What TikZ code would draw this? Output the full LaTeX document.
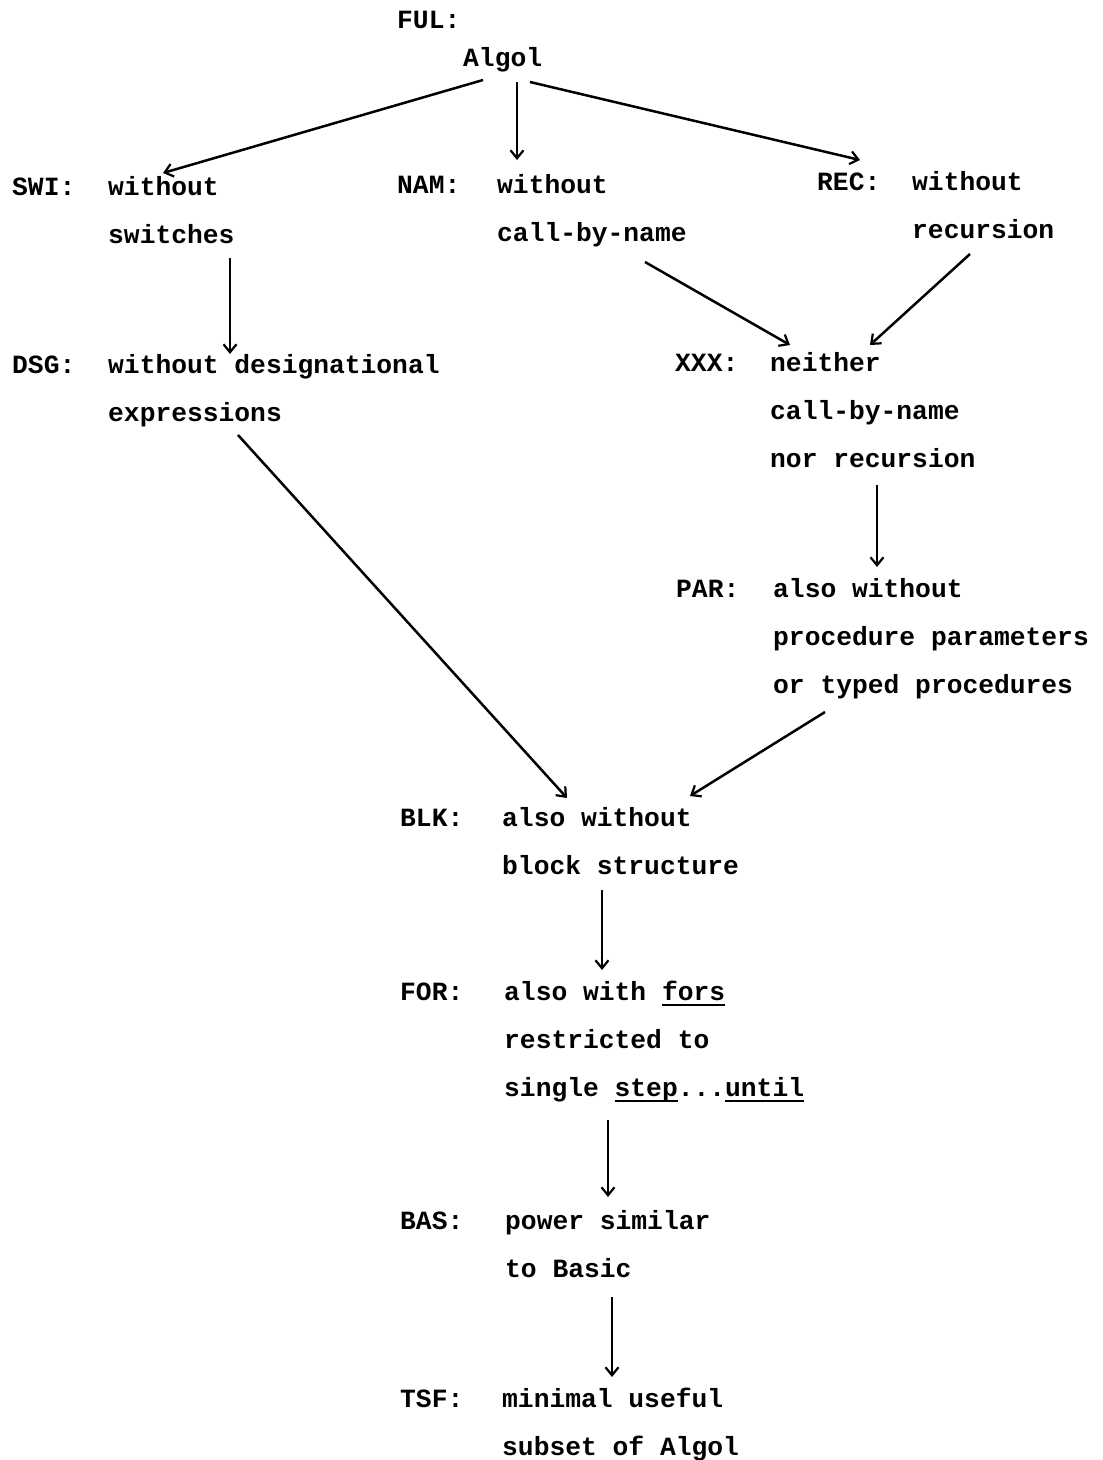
\documentclass[tikz,border=0pt]{standalone}
\usepackage{fontspec}
\setmonofont{Liberation Mono}
\usetikzlibrary{arrows.meta,calc}
% typewriter-style underline of fixed depth and weight
\newcommand\tul[1]{\setbox0\hbox{#1}\rlap{\rule[-6pt]{\wd0}{2pt}}\box0}
\newcommand\tyfont{\fontsize{26.3}{48}\selectfont\ttfamily\bfseries}
% stacked lines whose reference point is the first baseline
\newcommand\stack[1]{\begin{tabular}[t]{@{}l@{}}#1\end{tabular}}
\tikzset{
  tag/.style={anchor=base west, inner sep=0pt, font=\tyfont},
  entry/.style={anchor=base west, inner sep=0pt, font=\tyfont},
  link/.style={line width=2.5pt, -{Straight Barb[length=8pt,width=13pt,line width=2.2pt]}}
}
\begin{document}
\begin{tikzpicture}[x=1pt,y=-1pt]
  \fill[white] (0,0) rectangle (1103,1460);
  \useasboundingbox (0,0) rectangle (1103,1460);

  % language variants
  \node[tag]   (ful)  at (397,28)  {FUL:};
  \node[entry] (alg)  at (463,66)  {Algol};

  \node[tag]   (swi)  at (12,195)  {SWI:};
  \node[entry] (swiT) at (108,195) {\stack{without\\switches}};

  \node[tag]   (nam)  at (397,193) {NAM:};
  \node[entry] (namT) at (497,193) {\stack{without\\call-by-name}};

  \node[tag]   (rec)  at (817,190) {REC:};
  \node[entry] (recT) at (912,190) {\stack{without\\recursion}};

  \node[tag]   (dsg)  at (12,373)  {DSG:};
  \node[entry] (dsgT) at (108,373) {\stack{without designational\\expressions}};

  \node[tag]   (xxx)  at (675,371) {XXX:};
  \node[entry] (xxxT) at (770,371) {\stack{neither\\call-by-name\\nor recursion}};

  \node[tag]   (par)  at (676,597) {PAR:};
  \node[entry] (parT) at (773,597) {\stack{also without\\procedure parameters\\or typed procedures}};

  \node[tag]   (blk)  at (400,826) {BLK:};
  \node[entry] (blkT) at (502,826) {\stack{also without\\block structure}};

  \node[tag]   (for)  at (400,1000) {FOR:};
  \node[entry] (forT) at (504,1000) {\stack{also with \tul{fors}\\restricted to\\single \tul{step}...\tul{until}}};

  \node[tag]   (bas)  at (400,1229) {BAS:};
  \node[entry] (basT) at (505,1229) {\stack{power similar\\to Basic}};

  \node[tag]   (tsf)  at (400,1407) {TSF:};
  \node[entry] (tsfT) at (502,1407) {\stack{minimal useful\\subset of Algol}};

  % restriction arrows
  \draw[link] ($(alg.base west)+(20,14)$)   -- ($(swiT.base west)+(55,-22)$);
  \draw[link] ($(alg.base west)+(54,16)$)   -- ($(namT.base west)+(20,-33)$);
  \draw[link] ($(alg.base west)+(67,16)$)   -- ($(recT.base west)+(-52,-30)$);
  \draw[link] ($(swiT.base west)+(122,63)$) -- ($(dsgT.base west)+(122,-19)$);
  \draw[link] ($(namT.base west)+(148,69)$) -- ($(xxxT.base west)+(20,-26)$);
  \draw[link] ($(recT.base west)+(58,64)$)  -- ($(xxxT.base west)+(100,-26)$);
  \draw[link] ($(dsgT.base west)+(130,62)$) -- ($(blkT.base west)+(65,-28)$);
  \draw[link] ($(xxxT.base west)+(107,114)$) -- ($(parT.base west)+(104,-30)$);
  \draw[link] ($(parT.base west)+(52,115)$) -- ($(blkT.base west)+(188,-30)$);
  \draw[link] ($(blkT.base west)+(100,64)$) -- ($(forT.base west)+(98,-30)$);
  \draw[link] ($(forT.base west)+(104,120)$) -- ($(basT.base west)+(103,-32)$);
  \draw[link] ($(basT.base west)+(107,68)$) -- ($(tsfT.base west)+(110,-30)$);
\end{tikzpicture}
\end{document}
